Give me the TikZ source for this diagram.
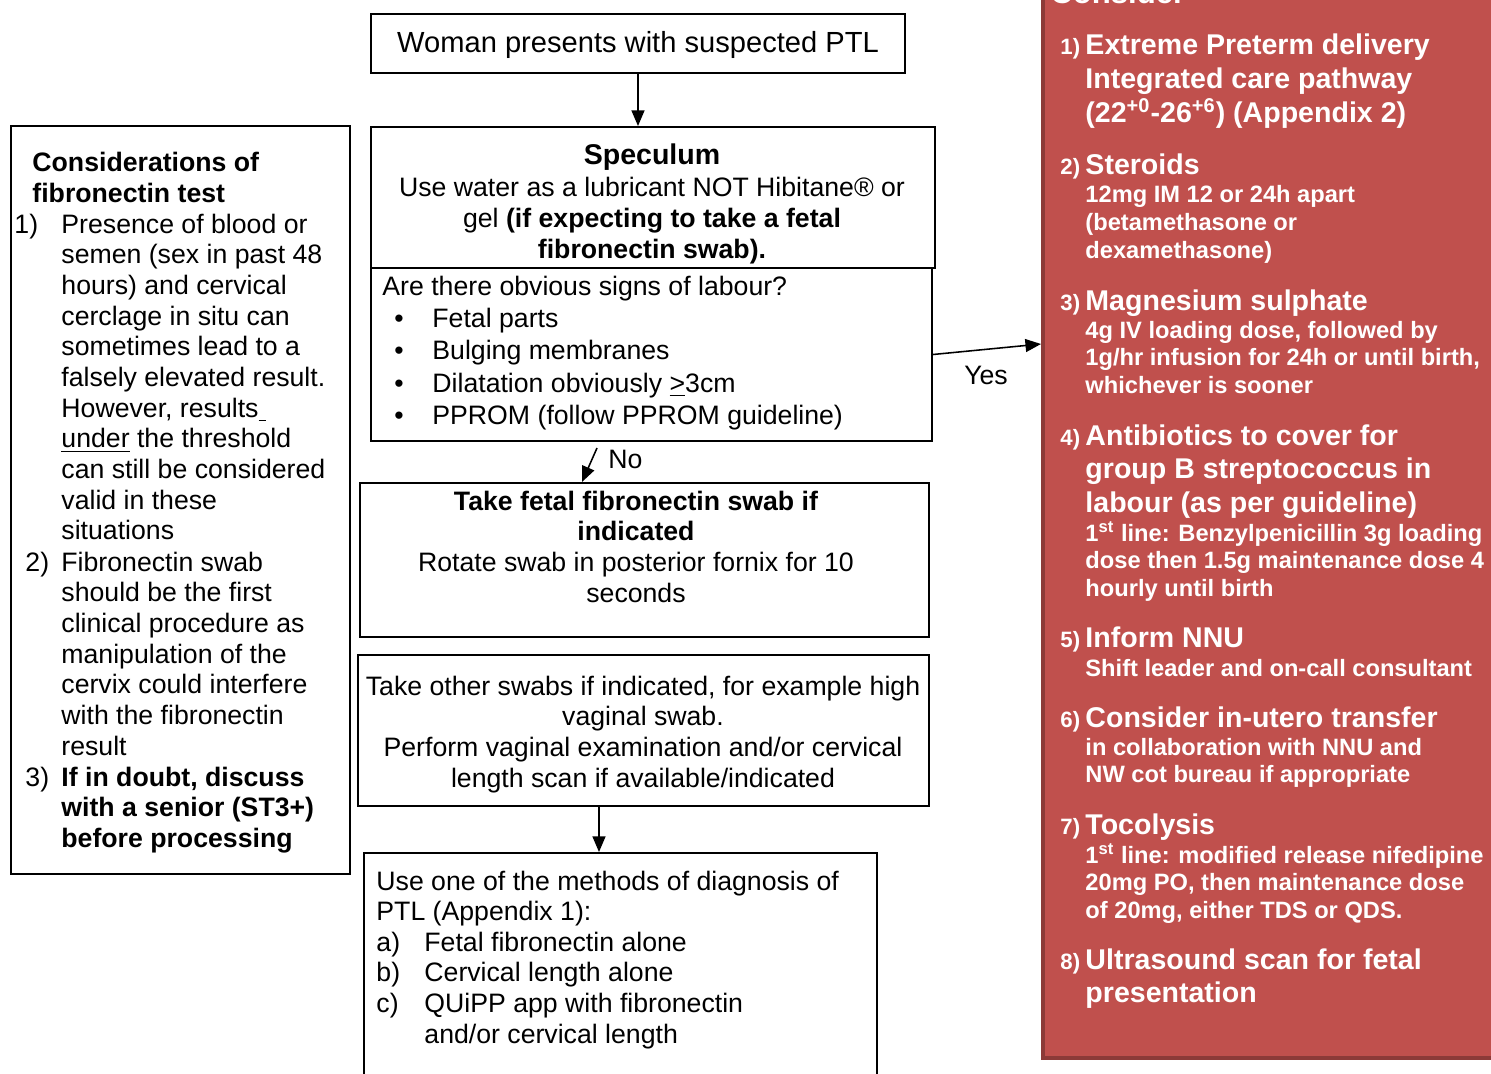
\documentclass[tikz,border=0pt]{standalone}
\usepackage{fontspec}
\setmainfont{Liberation Sans}
\usetikzlibrary{arrows.meta,fit,calc}
\definecolor{careFill}{HTML}{C0504D}
\definecolor{careEdge}{HTML}{8C3A38}
% type sizes
\newcommand\FMain{\fontsize{12}{13.8}\selectfont}
\newcommand\FTop{\fontsize{13.1}{15}\selectfont}
\newcommand\FList{\fontsize{12}{14.6}\selectfont}
\newcommand\FHead{\fontsize{12.85}{15.1}\selectfont\bfseries}
\newcommand\FSub{\fontsize{10.65}{12.5}\selectfont\bfseries}
\newcommand\FNum{\fontsize{10}{12}\selectfont\bfseries}
\newcommand\FCons{\fontsize{14}{16}\selectfont\bfseries}
% stacked lines whose baseline is that of the first line
\newcommand\Lines[2]{\begin{tabular}[t]{@{}#1@{}}#2\end{tabular}}
\newcommand\Bul{\hspace*{5.4pt}\makebox[17.1pt][l]{\textbullet}}

\begin{document}
\begin{tikzpicture}[x=0.45pt,y=-0.45pt,
  box/.style={draw=black,line width=0.9pt,inner sep=0pt},
  txt/.style={inner sep=0pt,anchor=base west,font=\FMain},
  ctxt/.style={inner sep=0pt,anchor=base,font=\FMain},
  wtxt/.style={inner sep=0pt,anchor=base west,text=white},
  flow/.style={line width=0.7pt,-{Triangle[length=7pt,width=5.8pt]}}]
\useasboundingbox (0,0) rectangle (1491,1074);
\clip (0,0) rectangle (1491,1074);

% ---- frames
\node[box,fit={(371,14)(905,73)}] (present) {};
\node[box,fit={(371,127)(935,268)}] (spec) {};
\node[box,fit={(371,268)(932,441)}] (signs) {};
\node[box,fit={(360,483)(929,637)}] (fib) {};
\node[box,fit={(358,655)(929,806)}] (swabs) {};
\node[box,fit={(364,853)(877,1110)}] (diag) {};
\node[box,fit={(11,126)(350,874)}] (notes) {};
\node[fill=careFill,draw=careEdge,line width=1.8pt,inner sep=0pt,
      fit={(1043,-40)(1540,1058)}] (care) {};

% ---- main pathway
\node[ctxt,font=\FTop] (presentT) at (638,53) {Woman presents with suspected PTL};

\node[ctxt,font=\FHead] (specH) at (652,165) {Speculum};
\node[ctxt] (specT) at (652,197) {\Lines{c}{Use water as a lubricant NOT Hibitane® or\\
  gel \textbf{(if expecting to take a fetal}\\ \textbf{fibronectin swab).}}};

\node[txt,font=\FList] (signsT) at (382,295) {\Lines{l}{Are there obvious signs of labour?\\
  \Bul Fetal parts\\
  \Bul Bulging membranes\\
  \Bul Dilatation obviously \underline{>}3cm\\
  \Bul PPROM (follow PPROM guideline)}};

\node[ctxt] (fibT) at (636,510) {\Lines{c}{\textbf{Take fetal fibronectin swab if}\\
  \textbf{indicated}\\ Rotate swab in posterior fornix for 10\\ seconds}};

\node[ctxt] (swabsT) at (643,695) {\Lines{c}{Take other swabs if indicated, for example high\\
  vaginal swab.\\ Perform vaginal examination and/or cervical\\
  length scan if available/indicated}};

\node[txt] (diagT) at (376,890) {\Lines{l}{Use one of the methods of diagnosis of\\PTL (Appendix 1):}};
\node[txt] (diagN) at (376,951) {\Lines{l}{a)\\b)\\c)}};
\node[txt] (diagL) at (424,951) {\Lines{l}{Fetal fibronectin alone\\Cervical length alone\\
  QUiPP app with fibronectin\\and/or cervical length}};

% ---- fibronectin notes
\node[txt,font=\FMain\bfseries] (notesH) at (32,172) {\Lines{l}{Considerations of\\fibronectin test}};
\node[txt] (n1) at (14,233) {1)};
\node[txt] (l1) at (61,233) {\Lines{l}{Presence of blood or\\semen (sex in past 48\\
  hours) and cervical\\cerclage in situ can\\sometimes lead to a\\falsely elevated result.\\
  However, results\underline{\ }\\ \underline{under} the threshold\\can still be considered\\
  valid in these\\situations}};
\node[txt] (n2) at (25,571) {2)};
\node[txt] (l2) at (61,571) {\Lines{l}{Fibronectin swab\\should be the first\\
  clinical procedure as\\manipulation of the\\cervix could interfere\\
  with the fibronectin\\result}};
\node[txt] (n3) at (25,786) {3)};
\node[txt,font=\FMain\bfseries] (l3) at (61,786) {\Lines{l}{If in doubt, discuss\\
  with a senior (ST3+)\\before processing}};

% ---- connectors
\draw[flow] (present.south) -- (present.south |- spec.north);
\draw[flow] ($(signs.south west)+(227,6)$) -- ($(fib.north west)+(223,0)$);
\node[txt] (noL) at (608,468) {No};
\coordinate (yesTip) at (1041,344);
\draw[flow] (signs.east) -- (yesTip);
\node[ctxt] (yesL) at (986,384) {Yes};
\draw[flow] ($(swabs.south west)+(242,0)$) -- ($(diag.north west)+(236,0)$);

% ---- management panel
\node[wtxt,font=\FCons] (consT) at (1050,4) {Consider};

\node[wtxt,font=\FNum] (c1n) at (1060,55) {1)};
\node[wtxt,font=\FHead] (c1h) at (1085,55) {\Lines{l}{Extreme Preterm delivery\\
  Integrated care pathway\\(22\textsuperscript{+0}-26\textsuperscript{+6}) (Appendix 2)}};

\node[wtxt,font=\FNum] (c2n) at (1060,175) {2)};
\node[wtxt,font=\FHead] (c2h) at (1085,175) {Steroids};
\node[wtxt,font=\FSub] (c2s) at (1085,203) {\Lines{l}{12mg IM 12 or 24h apart\\
  (betamethasone or\\dexamethasone)}};

\node[wtxt,font=\FNum] (c3n) at (1060,310) {3)};
\node[wtxt,font=\FHead] (c3h) at (1085,310) {Magnesium sulphate};
\node[wtxt,font=\FSub] (c3s) at (1085,338) {\Lines{l}{4g IV loading dose, followed by\\
  1g/hr infusion for 24h or until birth,\\whichever is sooner}};

\node[wtxt,font=\FNum] (c4n) at (1060,445) {4)};
\node[wtxt,font=\FHead] (c4h) at (1085,445) {\Lines{l}{Antibiotics to cover for\\
  group B streptococcus in\\labour (as per guideline)}};
\node[wtxt,font=\FSub] (c4s) at (1085,541) {\Lines{l}{1\textsuperscript{st} line: Benzylpenicillin 3g loading\\
  dose then 1.5g maintenance dose 4\\hourly until birth}};

\node[wtxt,font=\FNum] (c5n) at (1060,647) {5)};
\node[wtxt,font=\FHead] (c5h) at (1085,647) {Inform NNU};
\node[wtxt,font=\FSub] (c5s) at (1085,676) {Shift leader and on-call consultant};

\node[wtxt,font=\FNum] (c6n) at (1060,727) {6)};
\node[wtxt,font=\FHead] (c6h) at (1085,727) {Consider in-utero transfer};
\node[wtxt,font=\FSub] (c6s) at (1085,755) {\Lines{l}{in collaboration with NNU and\\
  NW cot bureau if appropriate}};

\node[wtxt,font=\FNum] (c7n) at (1060,834) {7)};
\node[wtxt,font=\FHead] (c7h) at (1085,834) {Tocolysis};
\node[wtxt,font=\FSub] (c7s) at (1085,863) {\Lines{l}{1\textsuperscript{st} line: modified release nifedipine\\
  20mg PO, then maintenance dose\\of 20mg, either TDS or QDS.}};

\node[wtxt,font=\FNum] (c8n) at (1060,969) {8)};
\node[wtxt,font=\FHead] (c8h) at (1085,969) {\Lines{l}{Ultrasound scan for fetal\\presentation}};
\end{tikzpicture}
\end{document}
